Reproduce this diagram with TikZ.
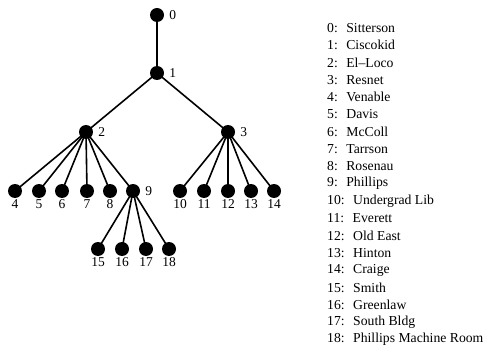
\documentclass[tikz,border=0pt]{standalone}
\usepackage{fontspec}
\setmainfont{Liberation Serif}
\begin{document}
\begin{tikzpicture}[x=1pt,y=-1pt,
  vertex/.style={circle,fill=black,inner sep=0pt,minimum size=14pt},
  edge/.style={line width=1.6pt},
  tag/.style={font=\fontsize{13.5}{15}\selectfont,inner sep=1pt},
  rtag/.style={label={[tag,label distance=4pt]right:#1}},
  btag/.style={label={[tag]below:#1}},
  legend/.style={anchor=west,font=\fontsize{13.7}{15}\selectfont,inner sep=0pt}]
\useasboundingbox (0,0) rectangle (486,355);

% edges first, so the vertices cover their ends
\coordinate (p0) at (157,15);
\coordinate (p1) at (157,73);
\coordinate (p2) at (86,132);
\coordinate (p3) at (228,132);
\coordinate (p9) at (133,191);
\foreach \k/\x in {4/15,5/39,6/62,7/87,8/110}
  \coordinate (p\k) at (\x,191);
\foreach \k/\x in {10/180,11/204,12/228,13/251,14/274}
  \coordinate (p\k) at (\x,191);
\foreach \k/\x in {15/98,16/122,17/146,18/169}
  \coordinate (p\k) at (\x,249);

\draw[edge] (p0) -- (p1);
\draw[edge] (p1) -- (p2);
\draw[edge] (p1) -- (p3);
\foreach \k in {4,5,6,7,8,9} \draw[edge] (p2) -- (p\k);
\foreach \k in {10,11,12,13,14} \draw[edge] (p3) -- (p\k);
\foreach \k in {15,16,17,18} \draw[edge] (p9) -- (p\k);

% vertices
\node[vertex,rtag=0] (n0) at (p0) {};
\node[vertex,rtag=1] (n1) at (p1) {};
\node[vertex,rtag=2] (n2) at (p2) {};
\node[vertex,rtag=3] (n3) at (p3) {};
\node[vertex,rtag=9] (n9) at (p9) {};
\foreach \k in {4,5,6,7,8,10,11,12,13,14,15,16,17,18}
  \node[vertex,btag=\k] (n\k) at (p\k) {};

% legend
\foreach \name [count=\i from 0] in {Sitterson, Ciscokid, El--Loco, Resnet,
    Venable, Davis, McColl, Tarrson, Rosenau, Phillips, Undergrad Lib,
    Everett, Old East, Hinton, Craige, Smith, Greenlaw, South Bldg,
    Phillips Machine Room}
  \node[legend] (l\i) at (327,{28+17.3*\i}) {\i:\hspace{8.5pt}\name};
\end{tikzpicture}
\end{document}
